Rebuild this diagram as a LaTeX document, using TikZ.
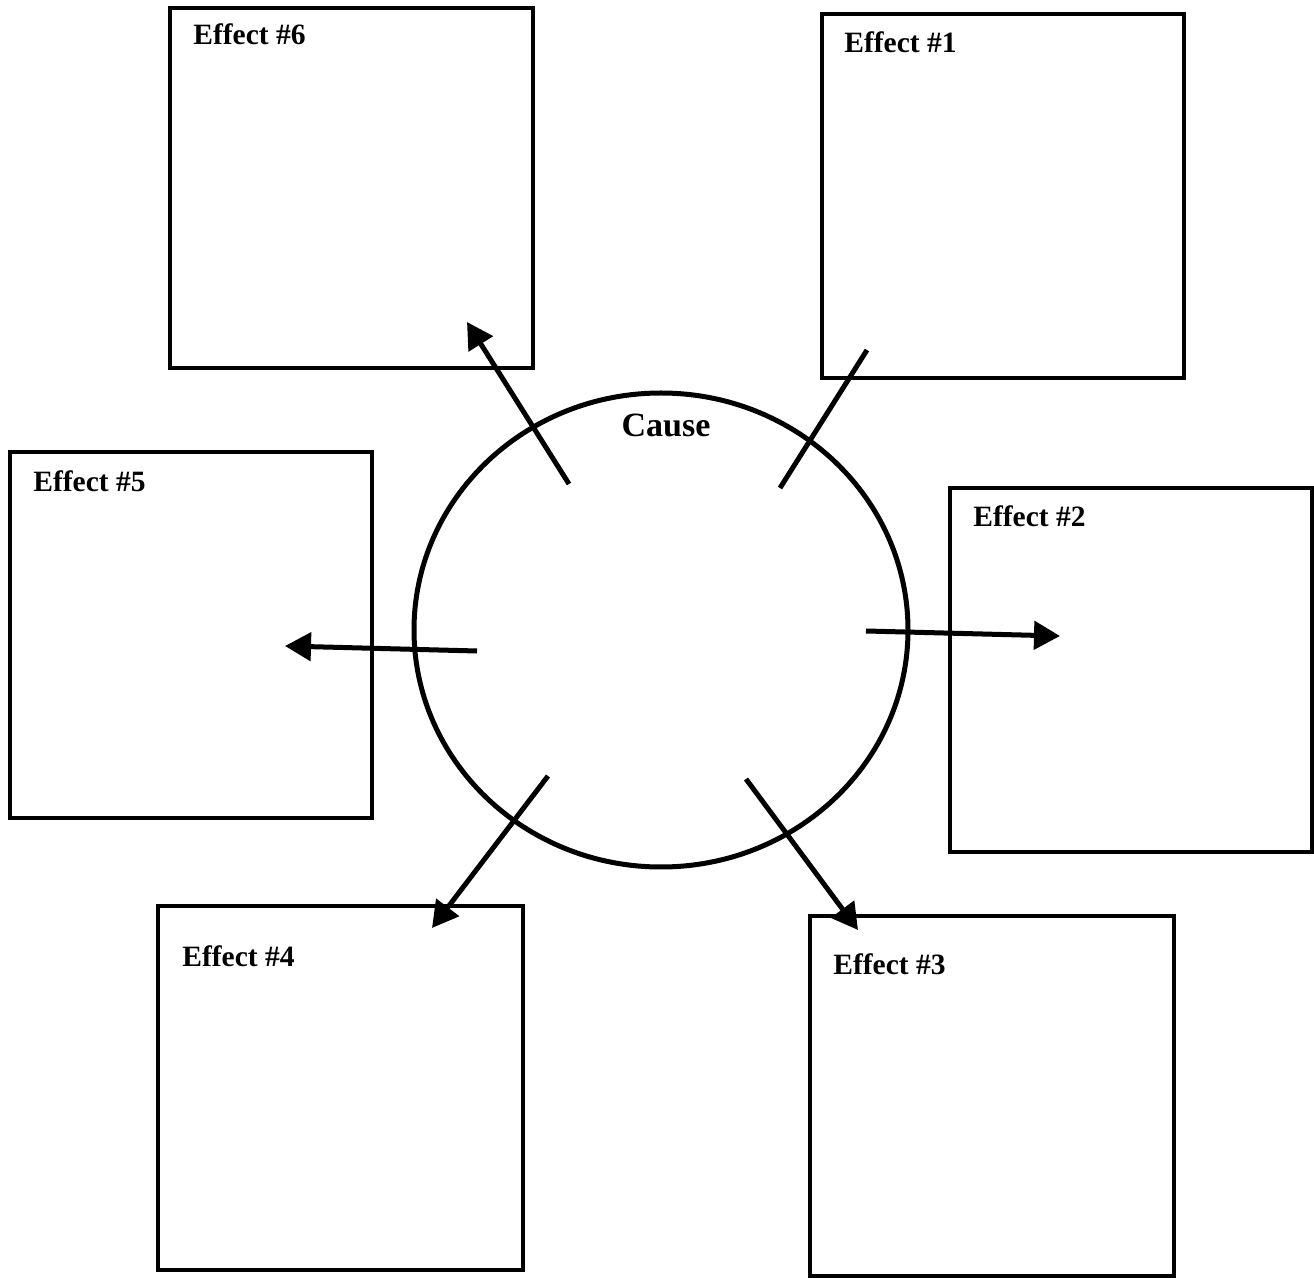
\documentclass[tikz,border=0pt]{standalone}
\usepackage{fontspec}
\setmainfont{Liberation Serif}
\usetikzlibrary{arrows.meta,shapes.geometric}

\tikzset{
  effbox/.style={draw, line width=2pt, anchor=north west, inner sep=0pt, outer sep=0pt},
  efflabel/.style={anchor=base west, inner sep=0pt, font=\fontsize{14.75}{18}\selectfont\bfseries},
  spoke/.style={line width=2.5pt},
  arrowspoke/.style={spoke, -{Triangle[length=13pt,width=14pt]}}
}

\begin{document}
\begin{tikzpicture}[x=0.5pt, y=-0.5pt]
    \useasboundingbox (0,0) rectangle (1314,1278);

    % effect boxes (sizes in pt, half the pixel size)
    \node[effbox, minimum width=181.5pt, minimum height=180pt] (e6) at (170,8) {};
    \node[effbox, minimum width=181pt, minimum height=182pt] (e1) at (822,14) {};
    \node[effbox, minimum width=181pt, minimum height=183pt] (e5) at (10,452) {};
    \node[effbox, minimum width=181pt, minimum height=182pt] (e2) at (950,488) {};
    \node[effbox, minimum width=182.5pt, minimum height=182pt] (e4) at (158,906) {};
    \node[effbox, minimum width=182pt, minimum height=180pt] (e3) at (810,916) {};

    \node[efflabel] (l6) at (193,45) {Effect \#6};
    \node[efflabel] (l1) at (844,53) {Effect \#1};
    \node[efflabel] (l5) at (33,492) {Effect \#5};
    \node[efflabel] (l2) at (973,527) {Effect \#2};
    \node[efflabel] (l4) at (182,966) {Effect \#4};
    \node[efflabel] (l3) at (833,975) {Effect \#3};

    % the cause
    \node[draw, ellipse, line width=2.5pt, inner sep=0pt, outer sep=0pt,
          minimum width=247pt, minimum height=237pt] (cause) at (661,630) {};
    \node[anchor=base, inner sep=0pt, font=\fontsize{17}{20}\selectfont\bfseries]
          (causelabel) at (666,437) {Cause};

    % spokes
    \coordinate (s6) at (569,484);  \coordinate (t6) at (467,322);
    \coordinate (s1) at (780,488);  \coordinate (t1) at (867,350);
    \coordinate (s2) at (866,631);  \coordinate (t2) at (1060,636);
    \coordinate (s5) at (477,651);  \coordinate (t5) at (285,646);
    \coordinate (s4) at (548,776);  \coordinate (t4) at (432,928);
    \coordinate (s3) at (746,779);  \coordinate (t3) at (858,930);

    \draw[arrowspoke] (s6) -- (t6);
    \draw[spoke] (s1) -- (t1);
    \draw[arrowspoke] (s2) -- (t2);
    \draw[arrowspoke] (s5) -- (t5);
    \draw[arrowspoke] (s4) -- (t4);
    \draw[arrowspoke] (s3) -- (t3);
\end{tikzpicture}
\end{document}
